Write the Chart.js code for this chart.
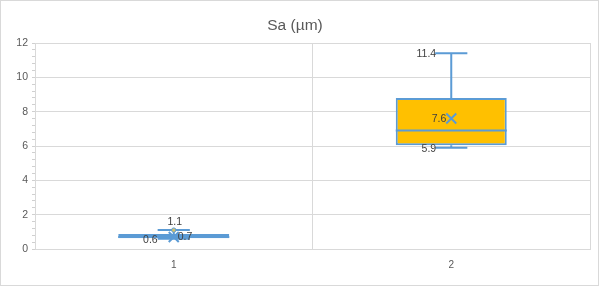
<!DOCTYPE html>
<html><head><meta charset="utf-8">
<script src="https://cdn.jsdelivr.net/npm/chart.js@4/dist/chart.umd.min.js"></script>
<style>html,body{margin:0;padding:0;background:#fff}canvas{display:block}</style>
</head><body>
<canvas id="c" width="600" height="287"></canvas>
<script>
const categories = ['1', '2'];
const mins    = [0.6, 5.9];
const q1s     = [0.62, 6.05];
const medians = [0.7, 6.9];
const q3s     = [0.88, 8.8];
const maxs    = [1.1, 11.4];
const means   = [0.7, 7.6];
const outliers = [[1.1], []];
const yTicks = [0, 2, 4, 6, 8, 10, 12];

const BLUE = '#5B9BD5';
const fills = [BLUE, '#FFC000'];
const FONT = '"Liberation Sans", Arial, sans-serif';

const boxPlugin = {
  id: 'boxes',
  beforeDraw(chart) {
    const c = chart.ctx;
    c.save();
    c.fillStyle = '#fff';
    c.fillRect(0, 0, chart.width, chart.height);
    c.strokeStyle = '#d9d9d9';
    c.lineWidth = 1;
    c.strokeRect(0.5, 0.5, 598, 285);
    c.restore();
  },
  beforeDatasetsDraw(chart) {
    const c = chart.ctx, y = chart.scales.y;
    const meta = chart.getDatasetMeta(0);
    c.save();
    c.strokeStyle = BLUE; c.lineWidth = 2;
    categories.forEach((cat, i) => {
      const b = meta.data[i];
      const cx = b.x, cw = b.width * 0.29;
      c.beginPath();
      c.moveTo(cx, y.getPixelForValue(q3s[i])); c.lineTo(cx, y.getPixelForValue(maxs[i]));
      c.moveTo(cx, y.getPixelForValue(q1s[i])); c.lineTo(cx, y.getPixelForValue(mins[i]));
      c.moveTo(cx - cw / 2, y.getPixelForValue(maxs[i])); c.lineTo(cx + cw / 2, y.getPixelForValue(maxs[i]));
      c.moveTo(cx - cw / 2, y.getPixelForValue(mins[i])); c.lineTo(cx + cw / 2, y.getPixelForValue(mins[i]));
      c.stroke();
    });
    c.restore();
  },
  afterDatasetsDraw(chart) {
    const c = chart.ctx, y = chart.scales.y;
    const meta = chart.getDatasetMeta(0);
    c.save();
    categories.forEach((cat, i) => {
      const b = meta.data[i];
      const cx = b.x, w = b.width, cw = w * 0.29;
      // median
      c.strokeStyle = BLUE; c.lineWidth = 2;
      const my = y.getPixelForValue(medians[i]);
      c.beginPath(); c.moveTo(cx - w / 2, my); c.lineTo(cx + w / 2, my); c.stroke();
      // mean X
      const mny = y.getPixelForValue(means[i]);
      c.beginPath();
      c.moveTo(cx - 5, mny - 5); c.lineTo(cx + 5, mny + 5);
      c.moveTo(cx + 5, mny - 5); c.lineTo(cx - 5, mny + 5);
      c.stroke();
      // outliers
      outliers[i].forEach(v => {
        c.beginPath(); c.arc(cx, y.getPixelForValue(v), 2.2, 0, Math.PI * 2);
        c.fillStyle = '#d6c36a'; c.fill();
        c.lineWidth = 1; c.strokeStyle = BLUE; c.stroke();
      });
      // labels
      c.fillStyle = '#404040';
      c.font = '10.5px ' + FONT;
      c.textBaseline = 'middle';
      const maxY = y.getPixelForValue(maxs[i]);
      const minY = y.getPixelForValue(mins[i]);
      if (i === 0) {
        c.textAlign = 'center';
        c.fillText(maxs[i].toFixed(1), cx + 1, maxY - 8);
        c.textAlign = 'right';
        c.fillText(mins[i].toFixed(1), cx - cw / 2, minY + 1);
        c.textAlign = 'left';
        c.fillText(means[i].toFixed(1), cx + 4, mny);
      } else {
        c.textAlign = 'right';
        c.fillText(maxs[i].toFixed(1), cx - cw / 2 + 1, maxY + 1);
        c.fillText(mins[i].toFixed(1), cx - cw / 2 + 1, minY + 1);
        c.fillText(means[i].toFixed(1), cx - 5, mny + 1);
      }
    });
    c.restore();
  }
};

new Chart(document.getElementById('c'), {
  type: 'bar',
  data: {
    labels: categories,
    datasets: [{
      data: categories.map((c, i) => [q1s[i], q3s[i]]),
      backgroundColor: fills,
      borderColor: BLUE,
      borderWidth: 2,
      borderSkipped: false,
      barPercentage: 0.4,
      categoryPercentage: 1
    }]
  },
  options: {
    responsive: false,
    animation: false,
    devicePixelRatio: 1,
    layout: { padding: { left: 0, right: 10, top: 0, bottom: 0 } },
    plugins: {
      legend: { display: false },
      tooltip: { enabled: false },
      title: {
        display: true, text: 'Sa (µm)', color: '#595959',
        font: { family: FONT, size: 15.5, weight: 'normal' },
        padding: { top: 16, bottom: 8.4 }
      }
    },
    scales: {
      x: {
        offset: true,
        grid: { offset: true, color: '#d9d9d9', drawTicks: false },
        border: { color: '#d9d9d9' },
        ticks: { color: '#595959', font: { family: FONT, size: 10 }, padding: 10 },
        afterFit(s) { s.height = 38; }
      },
      y: {
        min: 0, max: 12,
        ticks: {
          stepSize: 0.4, color: '#595959', font: { family: FONT, size: 10.5 }, padding: 4,
          autoSkip: false,
          callback(v) { const k = yTicks.find(t => Math.abs(t - v) < 1e-6); return k === undefined ? '' : String(k); }
        },
        grid: {
          color(ctx) { return ctx.tick && yTicks.some(t => Math.abs(t - ctx.tick.value) < 1e-6) ? '#d9d9d9' : 'rgba(0,0,0,0)'; },
          tickColor: '#d0d0d0', tickLength: 3
        },
        border: { color: '#d9d9d9' },
        afterFit(s) { s.width = 35; }
      }
    }
  },
  plugins: [boxPlugin]
});
</script>
</body></html>
